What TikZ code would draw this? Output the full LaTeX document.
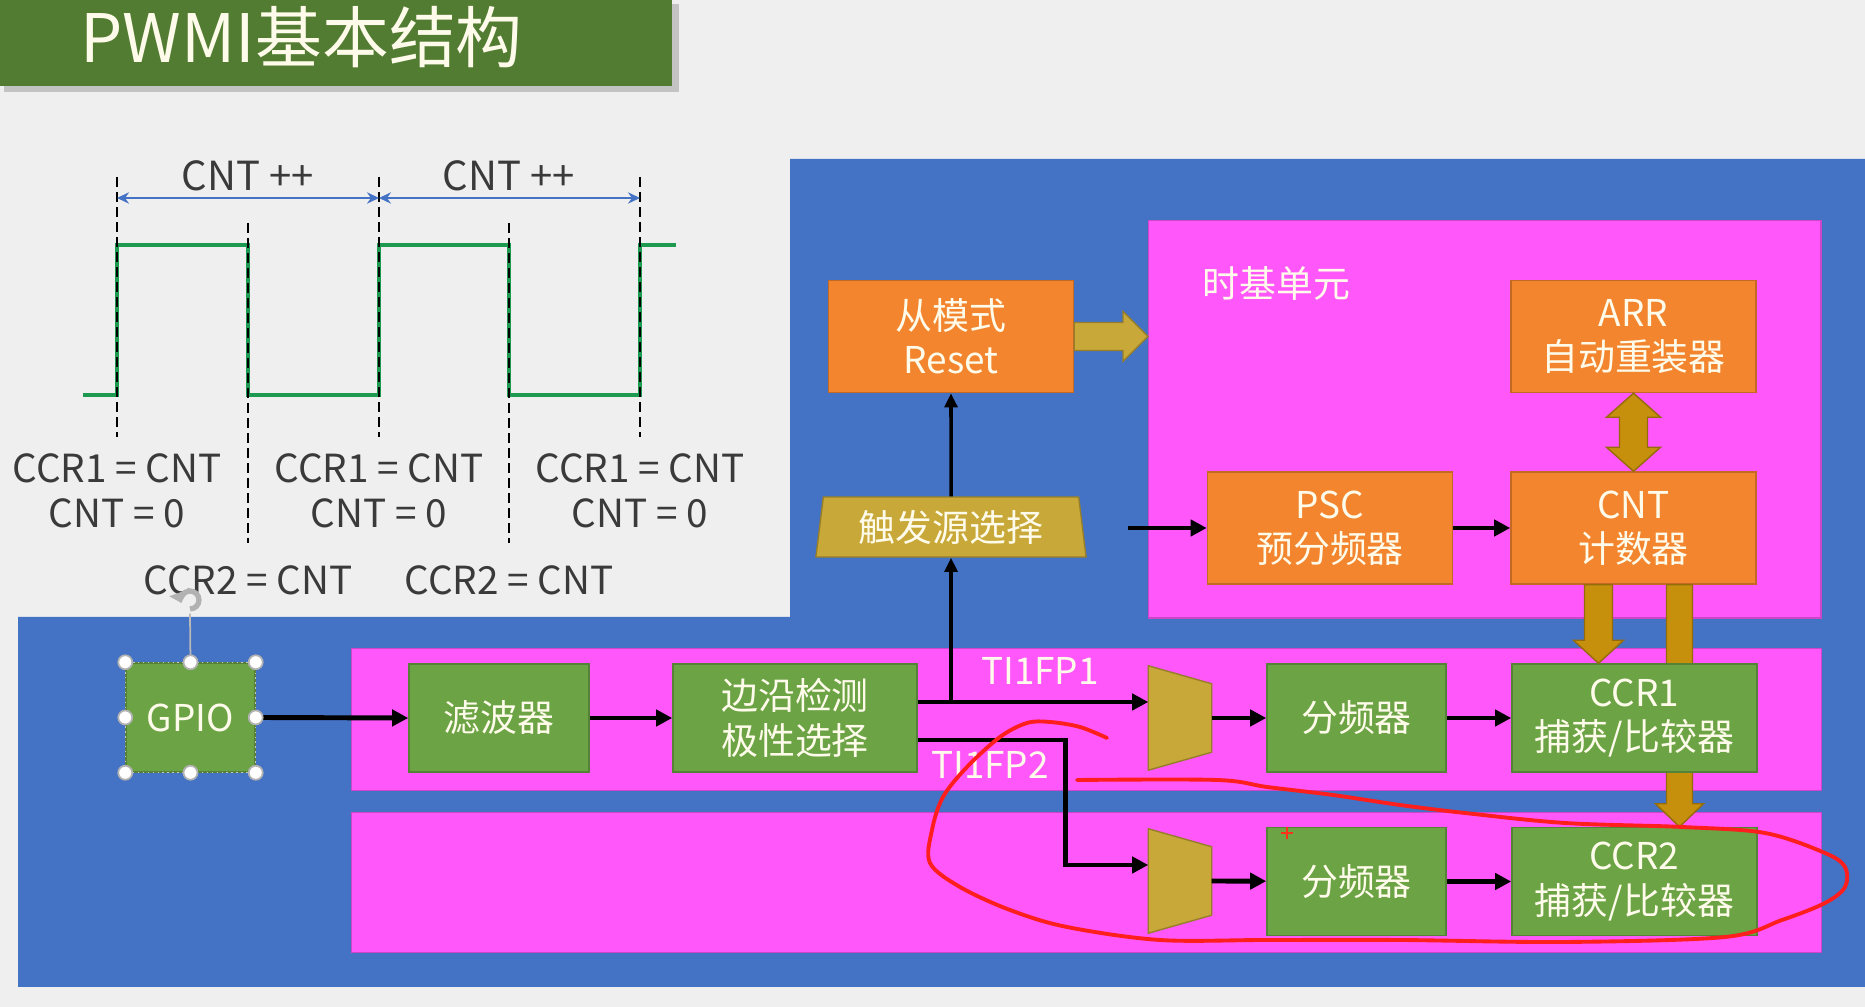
\documentclass[tikz,border=0pt]{standalone}
\usepackage{fontspec}
\setmainfont{Noto Sans CJK SC}
\usetikzlibrary{arrows.meta,positioning,calc,shapes.geometric}
\definecolor{pagegray}{HTML}{EFEFEF}
\definecolor{titlegreen}{HTML}{527C32}
\definecolor{chipblue}{HTML}{4472C4}
\definecolor{pink}{HTML}{FF57FA}
\definecolor{boxorange}{HTML}{F2852E}
\definecolor{boxgreen}{HTML}{6BA345}
\definecolor{olivegold}{HTML}{C8A838}
\definecolor{darkgold}{HTML}{C7900C}
\definecolor{wavegreen}{HTML}{1E9A50}
\definecolor{cream}{HTML}{FFFBEA}
\definecolor{labgray}{HTML}{3A3A3A}
\definecolor{penred}{HTML}{FF1E1E}
\tikzset{blk/.style={rectangle,inner sep=0pt,align=center,text=cream,font=\fontsize{10.5}{12.6}\selectfont,minimum height=1.08cm},
  obox/.style={blk,fill=boxorange,draw=boxorange!80!black,line width=0.4pt,minimum width=2.45cm,minimum height=1.12cm},
  gbox/.style={blk,fill=boxgreen,draw=boxgreen!80!black,line width=0.4pt},
  row/.style={fill=pink,draw=pink!80!black,line width=0.4pt,inner sep=0pt},
  muxbox/.style={minimum width=0.62cm,minimum height=1.03cm,inner sep=0pt},
  arr/.style={-{Triangle[length=4.6pt,width=4.6pt]},line width=1.4pt},
  varr/.style={-{Triangle[length=4pt,width=3.6pt]},line width=1pt},
  gbar/.style={fill=darkgold,draw=darkgold!75!black,line width=0.4pt},
  wave/.style={wavegreen,line width=1.2pt},
  tick/.style={black,line width=0.6pt,dash pattern=on 0.1cm off 0.05cm},
  cntarr/.style={chipblue,line width=0.6pt,{Stealth[length=3.4pt,width=3.2pt]}-{Stealth[length=3.4pt,width=3.2pt]}},
  lab/.style={text=labgray,align=center,font=\fontsize{11}{12.8}\selectfont},
  sig/.style={text=cream,font=\fontsize{10.5}{12.6}\selectfont},
  handle/.style={circle,fill=white,draw=gray!60,line width=0.5pt,minimum size=0.14cm,inner sep=0pt}}

\begin{document}
\begin{tikzpicture}[x=0.01cm,y=-0.01cm]
\useasboundingbox (0,0) rectangle (1865,1007);
\fill[pagegray] (0,0) rectangle (1865,1007);
% title
\fill[black,opacity=0.18] (4,4) rectangle (679,92);
\fill[titlegreen] (0,0) rectangle (672,86);
\node[anchor=base west,text=cream,font=\fontsize{19}{19}\selectfont,inner sep=0pt] (title) at (80,63) {PWMI基本结构};

% waveform
\draw[wave] (83,395) -- (117,395) -- (117,245) -- (248,245) -- (248,395) -- (379,395) -- (379,245)
  -- (509,245) -- (509,395) -- (640,395) -- (640,245) -- (676,245);
\foreach \x in {117,379,640} \draw[tick] (\x,177) -- (\x,437);
\foreach \x in {248,509} \draw[tick] (\x,223) -- (\x,543);
\draw[cntarr] (117,198) -- (379,198);
\draw[cntarr] (379,198) -- (640,198);
\node[lab,font=\fontsize{11.4}{12.8}\selectfont] (inc1) at (248,176) {CNT ++};
\node[lab,font=\fontsize{11.4}{12.8}\selectfont] (inc2) at (509,176) {CNT ++};
\node[lab] (rst1) at (117,491) {CCR1 = CNT\\CNT = 0};
\node[lab] (rst2) at (379,491) {CCR1 = CNT\\CNT = 0};
\node[lab] (rst3) at (640,491) {CCR1 = CNT\\CNT = 0};
\node[lab] (cap1) at (248,580) {CCR2 = CNT};
\node[lab] (cap2) at (509,580) {CCR2 = CNT};

% timer area
\fill[chipblue] (790,159) -- (1865,159) -- (1865,987) -- (18,987) -- (18,617) -- (790,617) -- cycle;
\node[row,anchor=north west,minimum width=6.72cm,minimum height=3.97cm] (tb) at (1148,220) {};
\node[sig,anchor=west,inner sep=0pt] (tblab) at (1202,283) {时基单元};
\node[row,anchor=north west,minimum width=14.69cm,minimum height=1.42cm] (row1) at (351,648) {};
\node[row,anchor=north west,minimum width=14.69cm,minimum height=1.40cm] (row2) at (351,812) {};

\node[obox] (slave) at (951,336.5) {从模式\\Reset};
\node[obox] (reload) at (1633.5,336.5) {ARR\\自动重装器};
\node[obox] (psc) at (1330,528) {PSC\\预分频器};
\node[obox] (cnt) at (1633.5,528) {CNT\\计数器};
\node[trapezium,trapezium angle=77.8,trapezium stretches body,minimum width=2.70cm,minimum height=0.60cm,
  inner sep=0pt,fill=olivegold,draw=olivegold!75!black,line width=0.4pt,text=cream,
  font=\fontsize{10.5}{12.6}\selectfont] (trig) at (951,527) {触发源选择};

\node[gbox,minimum width=1.29cm,minimum height=1.09cm] (gpio) at (190.5,717.5) {GPIO};
\node[gbox,minimum width=1.80cm] (filt) at (499,718) {滤波器};
\node[gbox,minimum width=2.44cm] (edge) at (795,718) {边沿检测\\极性选择};
\node[muxbox] (mux1) at (1180,718) {};
\node[muxbox] (mux2) at (1180,881) {};
\foreach \m in {mux1,mux2}
  \filldraw[fill=olivegold,draw=olivegold!75!black,line width=0.4pt] (\m.north west) -- ($(\m.north east)+(0,18)$)
    -- ($(\m.south east)+(0,-18)$) -- (\m.south west) -- cycle;
\node[gbox,minimum width=1.79cm] (div1) at (1356.5,718) {分频器};
\node[gbox,minimum width=1.79cm] (div2) at (1356.5,881.5) {分频器};
\node[gbox,minimum width=2.45cm] (ccr2) at (1634.5,881.5) {CCR2\\捕获/比较器};

% fat arrows
\filldraw[fill=olivegold,draw=olivegold!75!black,line width=0.4pt] ($(slave.east)+(0,-14)$) -- ($(tb.west|-slave.east)+(-25,-14)$)
  -- ++(0,-11) -- (tb.west|-slave.east) -- ($(tb.west|-slave.east)+(-25,25)$) -- ++(0,-11)
  -- ($(slave.east)+(0,14)$) -- cycle;
\filldraw[gbar] (reload.south) -- ++(27,24) -- ++(-13,0) -- ($(cnt.north)+(14,-24)$) -- ++(13,0) -- (cnt.north)
  -- ++(-27,-24) -- ++(13,0) -- ($(reload.south)+(-14,24)$) -- ++(-13,0) -- cycle;
\coordinate (b2t) at ($(cnt.south)+(46,0)$);
\coordinate (b2h) at (b2t|-ccr2.north);
\filldraw[gbar] ($(b2t)+(-13,0)$) -- ($(b2t)+(13,0)$) -- ($(b2h)+(13,-23)$) -- ++(11,0) -- (b2h)
  -- ++(-24,-23) -- ++(11,0) -- cycle;
\node[gbox,minimum width=2.45cm] (ccr1) at (1634.5,718) {CCR1\\捕获/比较器};
\coordinate (b1t) at ($(cnt.south)+(-35,0)$);
\coordinate (b1h) at (b1t|-ccr1.north);
\filldraw[gbar] ($(b1t)+(-14,0)$) -- ($(b1t)+(14,0)$) -- ($(b1h)+(14,-23)$) -- ++(11,0) -- (b1h)
  -- ++(-25,-23) -- ++(11,0) -- cycle;

% signal path
\draw[arr] (gpio.east) -- (filt.west);
\draw[arr] (filt) -- (edge);
\coordinate (fp1) at ($(edge.east)+(0,-16)$);
\coordinate (fp2) at ($(edge.east)+(0,22)$);
\draw[arr] (fp1) -- ($(mux1.west)+(0,-16)$);
\draw[arr] (fp2) -- ++(148,0) |- ($(mux2.west)+(0,-16)$);
\draw[varr] (fp1-|trig.south) -- (trig.south);
\draw[varr] (trig.north) -- (slave.south);
\draw[arr] ($(psc.west)+(-79,0)$) -- (psc.west);
\draw[arr] (psc) -- (cnt);
\draw[arr] (mux1.east) -- (div1);
\draw[arr] (div1) -- (ccr1);
\draw[arr] (mux2.east) -- (div2);
\draw[arr] (div2) -- (ccr2);
\node[sig] (fp1lab) at (1040,671) {TI1FP1};
\node[sig] (fp2lab) at (990,765) {TI1FP2};

% selection on GPIO
\draw[gray!45,densely dotted,line width=0.4pt] (gpio.north west) rectangle (gpio.south east);
\node[circle,minimum size=0.26cm,inner sep=0pt] (rot) at (190,600) {};
\draw[gray!55,line width=0.5pt] (rot.south) -- (gpio.north);
\draw[gray!60,line width=1.5pt,-{Triangle[length=3pt,width=5pt]}] ($(rot)+(0,9)$) arc[start angle=90,end angle=-200,radius=9];
\foreach \a/\n in {north west/nw,north/n,north east/ne,west/w,east/e,south west/sw,south/s,south east/se}
  \node[handle] (h\n) at (gpio.\a) {};

% hand-drawn mark
\draw[penred,line width=1.1pt,line cap=round,line join=round] plot[smooth,tension=0.55] coordinates {(1107,738) (1080,727) (1050,722) (1027,723)
  (1000,737) (967,767) (943,797) (932,830) (930,863) (960,887) (1010,910) (1067,927) (1160,940) (1267,940)
  (1400,940) (1565,942) (1725,937) (1782,920) (1825,903) (1845,887) (1845,867) (1825,853) (1765,833)
  (1682,827) (1565,823) (1465,813) (1400,805) (1333,795) (1267,787) (1217,780) (1077,780)};
\draw[penred!80!orange,line width=0.7pt] (1281,833) -- (1293,833) (1287,827) -- (1287,839);
\end{tikzpicture}
\end{document}
